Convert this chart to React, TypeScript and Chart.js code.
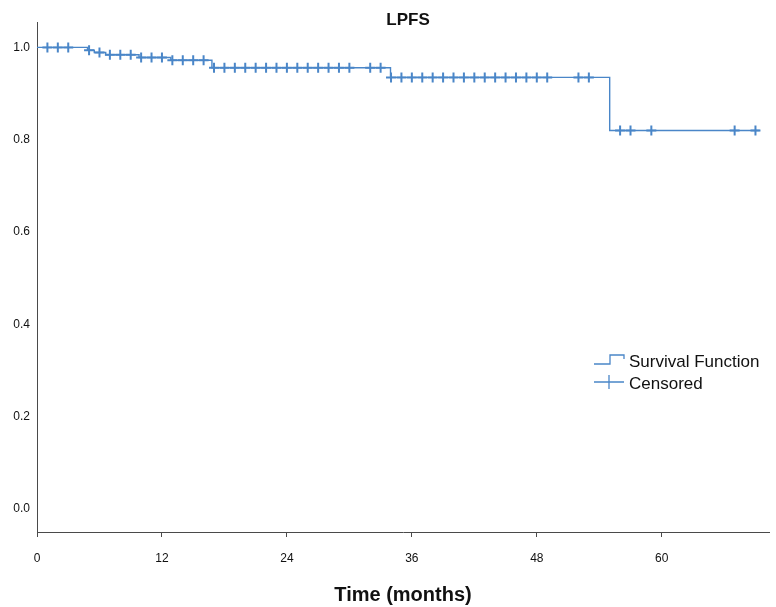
import React, { useEffect, useRef } from "react";
import { Chart, registerables } from "chart.js";

Chart.register(...registerables);

// Kaplan–Meier estimate
const EVENT_TIMES = [0, 4.85, 5.5, 6.6, 9.8, 12.85, 16.8, 33.95, 55.0];
const SURVIVAL = [1.0, 0.994, 0.989, 0.984, 0.978, 0.972, 0.956, 0.935, 0.82];
const LAST_FOLLOW_UP = 69.4;
const CENSOR_TIMES = [
  1, 2, 3, 5, 6, 7, 8, 9, 10, 11, 12, 13, 14, 15, 16, 17, 18, 19, 20, 21, 22,
  23, 24, 25, 26, 27, 28, 29, 30, 32, 33, 34, 35, 36, 37, 38, 39, 40, 41, 42,
  43, 44, 45, 46, 47, 48, 49, 52, 53, 56, 57, 59, 67, 69,
];
const X_TICKS = [0, 12, 24, 36, 48, 60];
const Y_TICKS = [0, 0.2, 0.4, 0.6, 0.8, 1.0];

const TITLE = "LPFS";
const X_TITLE = "Time (months)";
const LEGEND_LABELS = ["Survival Function", "Censored"];

const BLUE = "#4a86c8";
const AXIS = "#4a4a4a";
const FONT = "'Liberation Sans', Arial, Helvetica, sans-serif";

function survivalAt(t: number): number {
  let v = SURVIVAL[0];
  for (let i = 0; i < EVENT_TIMES.length; i++) {
    if (EVENT_TIMES[i] <= t) v = SURVIVAL[i];
  }
  return v;
}

const decorPlugin = {
  id: "decor",
  afterDraw(chart: any) {
    const ctx = chart.ctx as CanvasRenderingContext2D;
    const area = chart.chartArea;
    ctx.save();
    // Title
    ctx.fillStyle = "#111";
    ctx.font = `bold 17px ${FONT}`;
    ctx.textAlign = "center";
    ctx.textBaseline = "middle";
    ctx.fillText(TITLE, (area.left + area.right) / 2 + 5, 20);

    // Legend
    const lx = area.right - 175;
    const ly1 = 362;
    const ly2 = 384;
    ctx.strokeStyle = BLUE;
    ctx.lineWidth = 1.3;
    ctx.beginPath();
    ctx.moveTo(lx, ly1 + 2);
    ctx.lineTo(lx + 16, ly1 + 2);
    ctx.lineTo(lx + 16, ly1 - 7);
    ctx.lineTo(lx + 30, ly1 - 7);
    ctx.lineTo(lx + 30, ly1 - 3);
    ctx.stroke();
    ctx.beginPath();
    ctx.moveTo(lx, ly2 - 2);
    ctx.lineTo(lx + 30, ly2 - 2);
    ctx.moveTo(lx + 15, ly2 - 9);
    ctx.lineTo(lx + 15, ly2 + 5);
    ctx.stroke();
    ctx.fillStyle = "#111";
    ctx.font = `17px ${FONT}`;
    ctx.textAlign = "left";
    ctx.textBaseline = "middle";
    ctx.fillText(LEGEND_LABELS[0], lx + 35, ly1);
    ctx.fillText(LEGEND_LABELS[1], lx + 35, ly2);
    ctx.restore();
  },
};

export default function App() {
  const canvasRef = useRef<HTMLCanvasElement | null>(null);

  useEffect(() => {
    document.body.style.margin = "0";
    const canvas = canvasRef.current;
    if (!canvas) return;

    const stepData = EVENT_TIMES.map((t, i) => ({ x: t, y: SURVIVAL[i] }));
    stepData.push({ x: LAST_FOLLOW_UP, y: SURVIVAL[SURVIVAL.length - 1] });
    const censorData = CENSOR_TIMES.map((t) => ({ x: t, y: survivalAt(t) }));

    const chart = new Chart(canvas, {
      type: "scatter",
      data: {
        datasets: [
          {
            type: "line",
            label: LEGEND_LABELS[0],
            data: stepData,
            stepped: "before",
            borderColor: BLUE,
            borderWidth: 1.4,
            pointRadius: 0,
            fill: false,
          } as any,
          {
            type: "scatter",
            label: LEGEND_LABELS[1],
            data: censorData,
            pointStyle: "cross",
            pointRadius: 5,
            pointBorderWidth: 2,
            borderColor: BLUE,
            backgroundColor: BLUE,
          } as any,
        ],
      },
      options: {
        responsive: false,
        animation: false,
        layout: { padding: { top: 22, right: 6, left: 0, bottom: 0 } },
        plugins: {
          legend: { display: false },
          title: { display: false },
          tooltip: { enabled: false },
        },
        scales: {
          x: {
            type: "linear",
            min: 0,
            max: 70.3,
            afterBuildTicks: (scale: any) => {
              scale.ticks = X_TICKS.map((v) => ({ value: v }));
            },
            afterFit: (scale: any) => {
              scale.height = 75;
            },
            grid: {
              display: true,
              drawOnChartArea: false,
              drawTicks: true,
              tickLength: 5,
              color: AXIS,
            },
            border: { display: true, color: AXIS, width: 1 },
            ticks: {
              color: "#111",
              font: { family: FONT, size: 12 },
              padding: 14,
              maxRotation: 0,
              callback: (v: any) => String(v),
            },
            title: {
              display: true,
              text: X_TITLE,
              color: "#111",
              font: { family: FONT, size: 20, weight: "bold" },
              padding: { top: 0, bottom: 0 },
            },
          },
          y: {
            type: "linear",
            min: -0.05,
            max: 1.055,
            afterBuildTicks: (scale: any) => {
              scale.ticks = Y_TICKS.map((v) => ({ value: v }));
            },
            afterFit: (scale: any) => {
              scale.width = 37;
            },
            grid: { display: false, drawTicks: false },
            border: { display: true, color: AXIS, width: 1 },
            ticks: {
              color: "#111",
              font: { family: FONT, size: 12 },
              padding: 7,
              callback: (v: any) => Number(v).toFixed(1),
            },
          },
        },
      },
      plugins: [decorPlugin],
    });

    return () => chart.destroy();
  }, []);

  return (
    <div style={{ width: 776, height: 607 }}>
      <canvas ref={canvasRef} width={776} height={607} style={{ width: 776, height: 607, display: "block" }} />
    </div>
  );
}
